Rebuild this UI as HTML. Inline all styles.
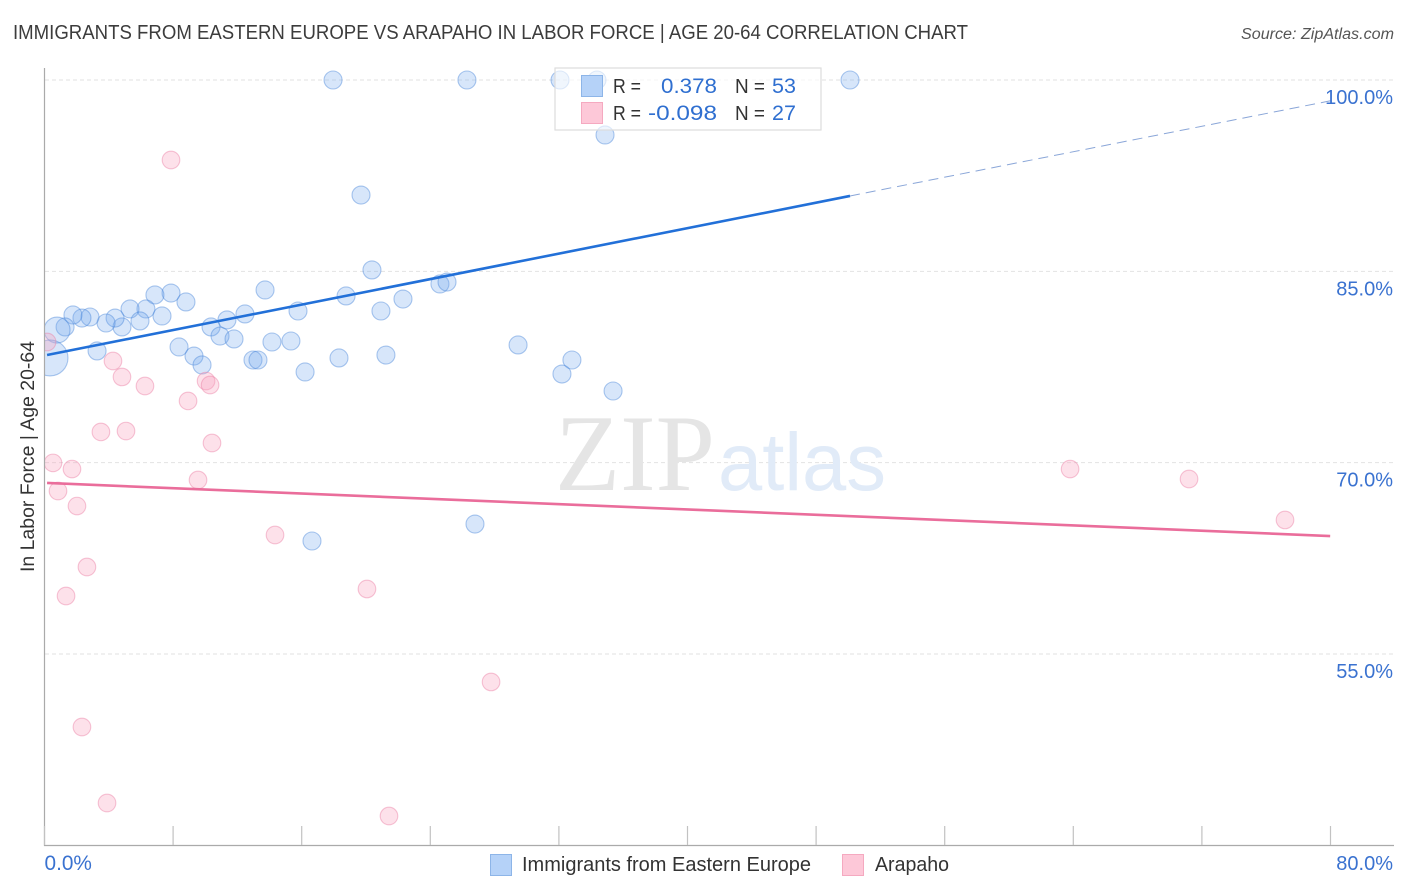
<!DOCTYPE html>
<html>
<head>
<meta charset="utf-8">
<title>Immigrants from Eastern Europe vs Arapaho in Labor Force</title>
<style>
html,body{margin:0;padding:0;background:#fff;width:1406px;height:892px;overflow:hidden}
svg{display:block;font-family:"Liberation Sans",sans-serif}
</style>
</head>
<body>
<svg id="chart" xmlns="http://www.w3.org/2000/svg" width="1406" height="892" viewBox="0 0 1406 892">
  <text x="13" y="39" font-size="20" fill="#3c3c3c" textLength="955" lengthAdjust="spacingAndGlyphs">IMMIGRANTS FROM EASTERN EUROPE VS ARAPAHO IN LABOR FORCE | AGE 20-64 CORRELATION CHART</text>
  <text x="1394" y="39" font-size="15.5" font-style="italic" fill="#555" text-anchor="end" textLength="153" lengthAdjust="spacingAndGlyphs">Source: ZipAtlas.com</text>
  <g id="grid"></g>
  <g>
    <text x="555" y="490" font-family="'Liberation Serif',serif" font-size="109" fill="#e5e5e5" textLength="160" lengthAdjust="spacingAndGlyphs">ZIP</text>
    <text x="718" y="490" font-size="82" fill="#e1ebf8" textLength="168" lengthAdjust="spacingAndGlyphs">atlas</text>
  </g>
  <g id="points"></g>
  <rect x="0" y="60" width="44.5" height="790" fill="#fff"/>
  <g id="trends"></g>
  <g id="axes">
    <line x1="44.5" y1="68" x2="44.5" y2="846" stroke="#aaa" stroke-width="1.2"/>
    <line x1="44" y1="845.5" x2="1394" y2="845.5" stroke="#aaa" stroke-width="1.2"/>
  </g>
  <text transform="translate(34,456.5) rotate(-90)" font-size="19" fill="#333" text-anchor="middle" textLength="231" lengthAdjust="spacingAndGlyphs">In Labor Force | Age 20-64</text>
  <g>
    <rect x="555" y="68" width="266" height="62" fill="#fff" fill-opacity="0.62" stroke="#ddd" stroke-width="1.2"/>
    <rect x="581.5" y="75.5" width="21" height="21" fill="#b5d2f8" stroke="#8db5e8"/>
    <rect x="581.5" y="102.5" width="21" height="21" fill="#fdc8d8" stroke="#f5a9c0"/>
    <text x="613" y="93" font-size="20" fill="#333" textLength="28" lengthAdjust="spacingAndGlyphs">R =</text>
    <text x="717" y="93" font-size="21.5" fill="#2f6fd0" text-anchor="end" textLength="56" lengthAdjust="spacingAndGlyphs">0.378</text>
    <text x="735" y="93" font-size="20" fill="#333" textLength="30" lengthAdjust="spacingAndGlyphs">N =</text>
    <text x="772" y="93" font-size="21.5" fill="#2f6fd0">53</text>
    <text x="613" y="120" font-size="20" fill="#333" textLength="28" lengthAdjust="spacingAndGlyphs">R =</text>
    <text x="717" y="120" font-size="21.5" fill="#2f6fd0" text-anchor="end" textLength="69" lengthAdjust="spacingAndGlyphs">-0.098</text>
    <text x="735" y="120" font-size="20" fill="#333" textLength="30" lengthAdjust="spacingAndGlyphs">N =</text>
    <text x="772" y="120" font-size="21.5" fill="#2f6fd0">27</text>
  </g>
  <g>
    <rect x="490.5" y="854.5" width="21" height="21" fill="#b5d2f8" stroke="#8db5e8"/>
    <text x="522" y="871" font-size="20" fill="#333" textLength="289" lengthAdjust="spacingAndGlyphs">Immigrants from Eastern Europe</text>
    <rect x="842.5" y="854.5" width="21" height="21" fill="#fdc8d8" stroke="#f5a9c0"/>
    <text x="875" y="871" font-size="20" fill="#333" textLength="74" lengthAdjust="spacingAndGlyphs">Arapaho</text>
  </g>
</svg>
<script>
var blueX = [17.95,26.28,32.07,34.37,50.11,34.87,19.69,20.37,13.72,18.76,22.30,24.60,25.04,20.93,15.77,12.47,11.35,10.36,8.80,7.87,6.87,6.31,5.32,7.31,5.94,4.82,4.39,3.83,2.83,2.33,1.77,1.28,0.78,3.27,8.37,9.30,9.80,10.92,11.79,14.15,15.33,12.97,13.28,16.21,18.32,21.24,29.46,32.81,32.19,35.37,26.78,16.64,0.34];
var blueY = [100,100,100,100,100,95.69,90.98,85.11,83.54,83.07,82.83,84.01,84.16,81.89,81.89,81.66,81.19,80.64,82.60,83.30,83.15,82.05,82.05,81.50,81.11,80.64,81.34,80.95,81.42,81.34,81.58,80.64,80.40,78.76,79.07,78.36,77.66,79.93,79.70,79.46,79.54,78.05,78.05,77.11,78.21,78.44,79.23,78.05,76.95,75.62,65.19,63.86,78.21];
var blueSize = [9,9,9,9,9,9,9,9,9,9,9,9,9,9,9,9,9,9,9,9,9,9,9,9,9,9,9,9,9,9,9,9,13,9,9,9,9,9,9,9,9,9,9,9,9,9,9,9,9,9,9,9,18];
var pinkX = [7.87,0.16,4.26,4.82,6.25,8.93,10.05,10.30,10.42,3.51,5.07,0.53,1.71,0.84,9.55,2.02,14.34,2.64,1.34,20.06,27.78,2.33,3.89,21.43,63.80,71.20,77.17];
var pinkY = [93.73,79.46,77.97,76.72,76.01,74.84,76.40,76.09,71.54,72.41,72.48,69.98,69.50,67.78,68.64,66.60,64.33,61.82,59.55,60.10,52.81,49.28,43.32,42.30,69.50,68.72,65.51];
var blueTrendX = [0.16,50.11];
var blueTrendY = [78.44,90.91];
var blueDashX = [50.11,80];
var blueDashY = [90.91,98.37];
var pinkTrendX = [0.16,79.98];
var pinkTrendY = [68.41,64.25];
var gridValues = [100,85,70,55];
var yTickLabels = ["100.0%","85.0%","70.0%","55.0%"];
var xTickValues = [0,8,16,24,32,40,48,56,64,72,80];
var xEndValues = [0,80];
var xEndLabels = ["0.0%","80.0%"];

function xScale(v){ return 44.5 + v * 16.075; }
function yScale(v){ return 80 + (100 - v) * 12.756; }
var NS = "http://www.w3.org/2000/svg";
var grid = document.getElementById("grid");
var axes = document.getElementById("axes");
var pts = document.getElementById("points");
var trends = document.getElementById("trends");
var svg = document.getElementById("chart");
var i, el;

for (i = 0; i < gridValues.length; i++) {
  el = document.createElementNS(NS, "line");
  
  
  el.setAttribute("x1", 45);
  el.setAttribute("x2", 1394);
  el.setAttribute("y1", yScale(gridValues[i]));
  el.setAttribute("y2", yScale(gridValues[i]));
  el.setAttribute("stroke", "#e2e2e2");
  el.setAttribute("stroke-width", "1");
  el.setAttribute("stroke-dasharray", "4 3");
  grid.appendChild(el);

  el = document.createElementNS(NS, "text");
  
  
  el.setAttribute("x", 1393);
  el.setAttribute("y", yScale(gridValues[i]) + 24);
  el.setAttribute("text-anchor", "end");
  el.setAttribute("font-size", "20");
  el.setAttribute("fill", "#3a72d0");
  el.textContent = yTickLabels[i];
  svg.appendChild(el);
}

for (i = 0; i < xTickValues.length; i++) {
  el = document.createElementNS(NS, "line");
  
  
  el.setAttribute("x1", xScale(xTickValues[i]));
  el.setAttribute("x2", xScale(xTickValues[i]));
  el.setAttribute("y1", 826);
  el.setAttribute("y2", 845);
  el.setAttribute("stroke", "#c2c2c2");
  el.setAttribute("stroke-width", "1.2");
  axes.appendChild(el);
}

for (i = 0; i < xEndValues.length; i++) {
  el = document.createElementNS(NS, "text");
  
  
  el.setAttribute("x", i === 0 ? xScale(xEndValues[i]) : 1393);
  el.setAttribute("y", 870);
  el.setAttribute("text-anchor", i === 0 ? "start" : "end");
  el.setAttribute("font-size", i === 0 ? "20.8" : "20");
  el.setAttribute("fill", "#3a72d0");
  el.textContent = xEndLabels[i];
  svg.appendChild(el);
}

for (i = 0; i < blueX.length; i++) {
  el = document.createElementNS(NS, "circle");
  
  
  el.setAttribute("cx", xScale(blueX[i]));
  el.setAttribute("cy", yScale(blueY[i]));
  el.setAttribute("r", blueSize[i]);
  el.setAttribute("fill", "#6ea6ee");
  el.setAttribute("fill-opacity", "0.28");
  el.setAttribute("stroke", "#3f7fd6");
  el.setAttribute("stroke-opacity", "0.42");
  el.setAttribute("stroke-width", "1.1");
  pts.appendChild(el);
}

for (i = 0; i < pinkX.length; i++) {
  el = document.createElementNS(NS, "circle");
  
  
  el.setAttribute("cx", xScale(pinkX[i]));
  el.setAttribute("cy", yScale(pinkY[i]));
  el.setAttribute("r", 8.8);
  el.setAttribute("fill", "#f9a3bf");
  el.setAttribute("fill-opacity", "0.32");
  el.setAttribute("stroke", "#ec7fa3");
  el.setAttribute("stroke-opacity", "0.45");
  el.setAttribute("stroke-width", "1.1");
  pts.appendChild(el);
}

el = document.createElementNS(NS, "line");


el.setAttribute("x1", xScale(blueTrendX[0]));
el.setAttribute("y1", yScale(blueTrendY[0]));
el.setAttribute("x2", xScale(blueTrendX[1]));
el.setAttribute("y2", yScale(blueTrendY[1]));
el.setAttribute("stroke", "#2270d8");
el.setAttribute("stroke-width", "2.6");
trends.appendChild(el);

el = document.createElementNS(NS, "line");


el.setAttribute("x1", xScale(blueDashX[0]));
el.setAttribute("y1", yScale(blueDashY[0]));
el.setAttribute("x2", xScale(blueDashX[1]));
el.setAttribute("y2", yScale(blueDashY[1]));
el.setAttribute("stroke", "#8aa6d8");
el.setAttribute("stroke-width", "1");
el.setAttribute("stroke-dasharray", "10 6");
trends.appendChild(el);

el = document.createElementNS(NS, "line");


el.setAttribute("x1", xScale(pinkTrendX[0]));
el.setAttribute("y1", yScale(pinkTrendY[0]));
el.setAttribute("x2", xScale(pinkTrendX[1]));
el.setAttribute("y2", yScale(pinkTrendY[1]));
el.setAttribute("stroke", "#ea6d9b");
el.setAttribute("stroke-width", "2.6");
trends.appendChild(el);
</script>
</body>
</html>
